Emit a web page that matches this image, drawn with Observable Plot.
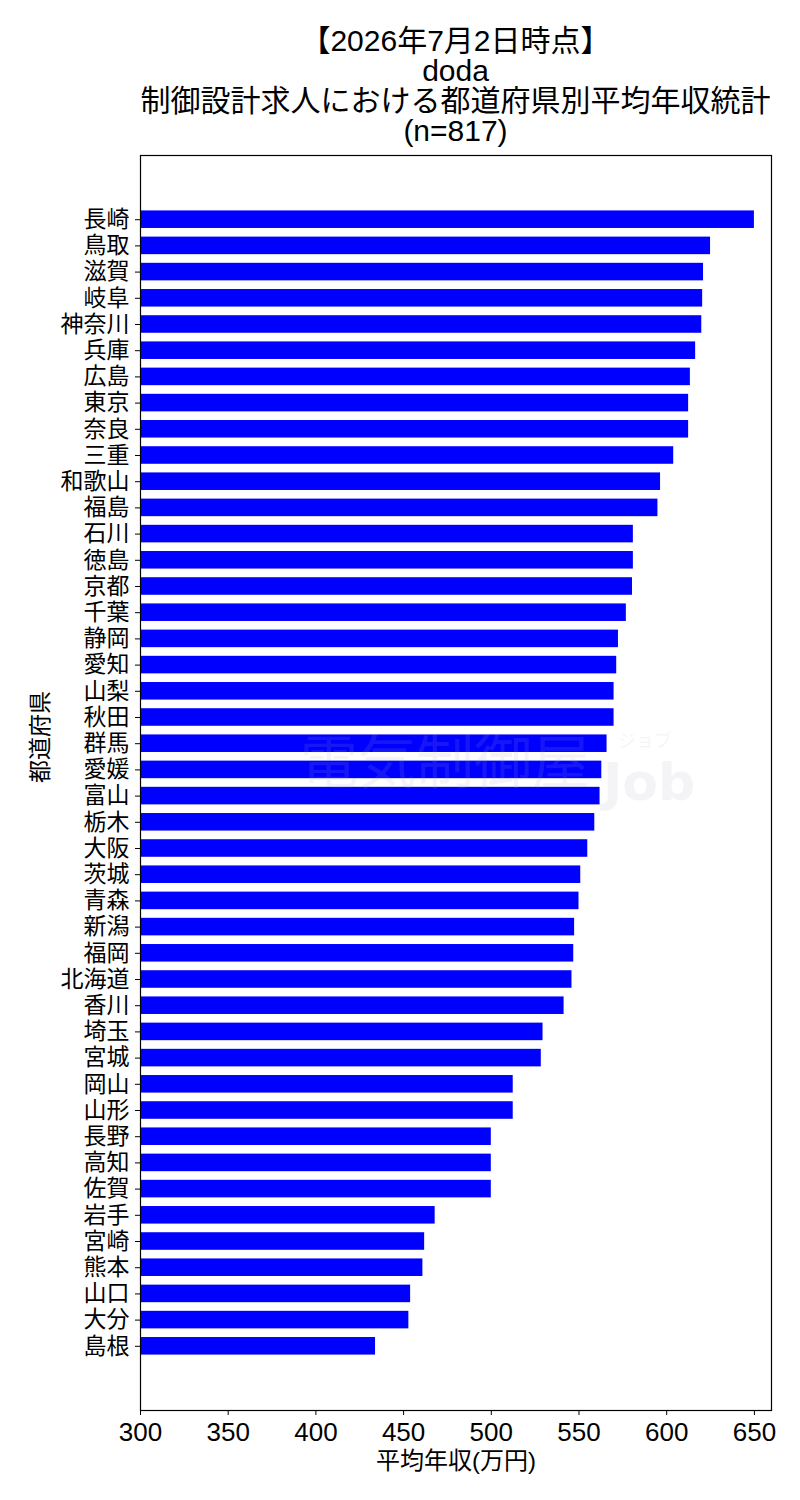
<!DOCTYPE html>
<html>
<head>
<meta charset="utf-8">
<script src="https://cdn.jsdelivr.net/npm/d3@7"></script>
<script src="https://cdn.jsdelivr.net/npm/@observablehq/plot@0.6"></script>
<style>
  body { margin: 0; background: #fff; font-family: "Noto Sans CJK JP", sans-serif; }
  #wrap { position: relative; width: 800px; }
  #title { height: 150px; box-sizing: border-box; padding-top: 26px; margin-left: 140px; width: 631px;
           text-align: center; font-size: 30px; line-height: 30px; color: #000; white-space: nowrap;
           font-family: "Liberation Sans", "Noto Sans CJK JP", sans-serif; }
  #title div { height: 30px; }
  #wm { position: absolute; left: 300px; top: 720px; pointer-events: none; color: rgba(170,170,190,0.13); white-space: nowrap;
        font-family: "Liberation Sans", "Noto Sans CJK JP", sans-serif; }
  #wm span { position: absolute; display: block; line-height: 1; }
  #wm .a { left: 0; top: 14px; font-size: 58px; font-weight: 400; }
  #wm .b { left: 303px; top: 36px; font-size: 52px; font-weight: 900; font-family: "DejaVu Sans", sans-serif; }
  #wm .c { left: 318px; top: 12px; font-size: 18px; }
</style>
</head>
<body>
<div id="wrap">
  <div id="title"></div>
  <div id="chart"></div>
  <div id="wm"><span class="a">電気制御屋</span><span class="c">ジョブ</span><span class="b">Job</span></div>
</div>
<script>
const titleLines = ["【2026年7月2日時点】", "doda", "制御設計求人における都道府県別平均年収統計", "(n=817)"];
const prefectures = ["長崎","鳥取","滋賀","岐阜","神奈川","兵庫","広島","東京","奈良","三重","和歌山","福島","石川","徳島","京都","千葉","静岡","愛知","山梨","秋田","群馬","愛媛","富山","栃木","大阪","茨城","青森","新潟","福岡","北海道","香川","埼玉","宮城","岡山","山形","長野","高知","佐賀","岩手","宮崎","熊本","山口","大分","島根"];
const salaries = [650,625,621,620.5,620,616.5,613.5,612.5,612.5,604,596.5,595,581,581,580.5,577,572.5,571.5,570,570,566,563,562,559,555,551,550,547.5,547,546,541.5,529.5,528.5,512.5,512.5,500,500,500,468,462,461,454,453,434];
const xTicks = [300,350,400,450,500,550,600,650];
const xLabel = "平均年収(万円)";
const yLabel = "都道府県";

document.getElementById("title").innerHTML = titleLines.map(t => `<div>${t}</div>`).join("");

const data = prefectures.map((p, i) => ({pref: p, value: salaries[i]}));
const cjk = "'Liberation Sans', 'Noto Sans CJK JP', sans-serif";

const chart = Plot.plot({
  width: 800,
  height: 1350,
  marginTop: 5,
  marginBottom: 90,
  marginLeft: 140,
  marginRight: 29,
  style: {fontFamily: cjk, fontSize: "22px", color: "#000", background: "#fff"},
  x: {domain: [300, 659.75], ticks: xTicks, label: null},
  y: {domain: prefectures, paddingInner: 0.33, paddingOuter: 2.115, round: false, label: null},
  marks: [
    Plot.barX(data, {x1: 300, x2: "value", y: "pref", fill: "#0000ff"}),
    Plot.frame({stroke: "#000", strokeWidth: 1.2}),
    Plot.axisX({ticks: xTicks, tickSize: 5, tickPadding: 7, fontSize: 26, label: null, tickFormat: d => String(d)}),
    Plot.axisY({tickSize: 5, tickPadding: 6, fontSize: 23, label: null}),
    Plot.text([xLabel], {frameAnchor: "bottom", dy: 51, fontSize: 24, lineAnchor: "middle", fill: "#000"}),
    Plot.text([yLabel], {frameAnchor: "left", dx: -100, rotate: -90, fontSize: 23, lineAnchor: "middle", fill: "#000"})
  ]
});
document.getElementById("chart").appendChild(chart);
</script>
</body>
</html>
